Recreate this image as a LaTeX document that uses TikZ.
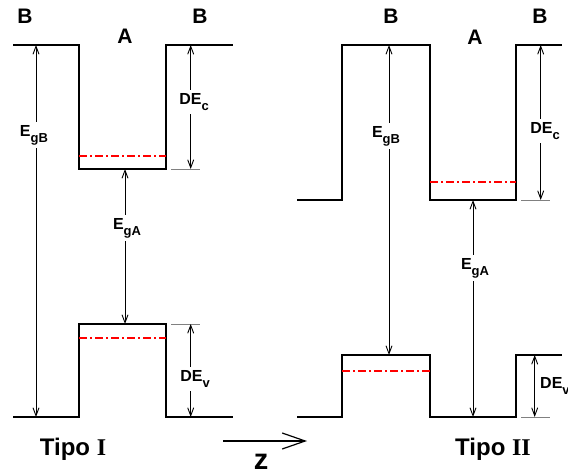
\documentclass[tikz,border=0pt]{standalone}
\usepackage{fontspec}
\setmainfont{Liberation Sans}
\newfontfamily\romanbold{Liberation Serif}
\usetikzlibrary{arrows.meta}

% energy label with lowered subscript
\newcommand{\elbl}[2]{{\fontsize{16}{16}\selectfont\bfseries #1\raisebox{-6pt}{\fontsize{13}{13}\selectfont #2}}}

\begin{document}
\begin{tikzpicture}[x=1pt, y=-1pt,
  bandline/.style={line width=1.8pt, line join=miter},
  redlevel/.style={red, line width=1.3pt, dash pattern=on 8pt off 3pt on 2pt off 3pt},
  dimarrow/.style={{Straight Barb[length=8pt,width=6pt]}-{Straight Barb[length=8pt,width=6pt]}, line width=0.9pt},
  zarrow/.style={-{Straight Barb[length=23pt,width=16pt]}, line width=1.2pt},
  tickline/.style={gray, line width=0.8pt},
  lbl/.style={fill=white, inner sep=3pt},
  region/.style={font=\fontsize{21}{21}\selectfont\bfseries},
  kind/.style={font=\fontsize{24}{24}\selectfont\bfseries}
]
  \useasboundingbox (0,0) rectangle (568,476);

  % Tipo I: conduction and valence bands
  \draw[bandline] (13,45) -- (79,45) -- (79,169) -- (166,169) -- (166,45) -- (233,45);
  \draw[bandline] (13,417) -- (79,417) -- (79,324) -- (166,324) -- (166,417) -- (233,417);
  \draw[redlevel] (79,156) -- (166,156);
  \draw[redlevel] (79,338) -- (166,338);

  % Tipo II: conduction and valence bands
  \draw[bandline] (297,200) -- (342,200) -- (342,45) -- (430,45) -- (430,200) -- (516,200) -- (516,45) -- (562,45);
  \draw[bandline] (297,417) -- (342,417) -- (342,355) -- (430,355) -- (430,417) -- (516,417) -- (516,355) -- (562,355);
  \draw[redlevel] (430,182) -- (516,182);
  \draw[redlevel] (342,371) -- (430,371);

  % Arrow end points
  \coordinate (gB1top) at (36,45);
  \coordinate (gB1bot) at (36,417);
  \coordinate (gA1top) at (125,169);
  \coordinate (gA1bot) at (125,324);
  \coordinate (Ec1top) at (190.7,45);
  \coordinate (Ec1bot) at (190.7,169);
  \coordinate (Ev1top) at (190.7,324);
  \coordinate (Ev1bot) at (190.7,417);
  \coordinate (gB2top) at (389,45);
  \coordinate (gB2bot) at (389,355);
  \coordinate (gA2top) at (473,200);
  \coordinate (gA2bot) at (473,417);
  \coordinate (Ec2top) at (540.7,45);
  \coordinate (Ec2bot) at (540.7,200);
  \coordinate (Ev2top) at (534.7,355);
  \coordinate (Ev2bot) at (534.7,417);

  % Ticks for the offsets
  \draw[tickline] (171,169) -- (200,169);
  \draw[tickline] (171,324) -- (200,324);
  \draw[tickline] (521,200) -- (550,200);
  \draw[tickline] (521,417) -- (550,417);

  % Gap and offset arrows
  \draw[dimarrow] (gB1top) -- (gB1bot);
  \draw[dimarrow] (gA1top) -- (gA1bot);
  \draw[dimarrow] (Ec1top) -- (Ec1bot);
  \draw[dimarrow] (Ev1top) -- (Ev1bot);
  \draw[dimarrow] (gB2top) -- (gB2bot);
  \draw[dimarrow] (gA2top) -- (gA2bot);
  \draw[dimarrow] (Ec2top) -- (Ec2bot);
  \draw[dimarrow] (Ev2top) -- (Ev2bot);

  % Arrow labels
  \node[lbl] (EgB1) at (34,135) {\elbl{E}{gB}};
  \node[lbl] (EgA1) at (127,228) {\elbl{E}{gA}};
  \node[lbl] (DEc1) at (194,102) {\elbl{DE}{c}};
  \node[lbl] (DEv1) at (195,379) {\elbl{DE}{v}};
  \node[lbl] (EgB2) at (386,136) {\elbl{E}{gB}};
  \node[lbl] (EgA2) at (475,268) {\elbl{E}{gA}};
  \node[lbl] (DEc2) at (545,131) {\elbl{DE}{c}};
  \node[inner sep=0pt, anchor=west] (DEv2) at (540,386) {\elbl{DE}{v}};

  % Materials
  \node[region] (B1) at (25,16) {B};
  \node[region] (A1) at (125,36) {A};
  \node[region] (B2) at (200,16) {B};
  \node[region] (B3) at (391,16) {B};
  \node[region] (A2) at (475,37) {A};
  \node[region] (B4) at (540,16) {B};

  % Growth direction
  \coordinate (zstart) at (223,441);
  \coordinate (zend) at (307,441);
  \draw[zarrow] (zstart) -- (zend);
  \node[font=\fontsize{29}{29}\selectfont\bfseries] (z) at (261,462) {z};

  % Types
  \node[kind] (tipo1) at (73,449) {Tipo {\romanbold I}};
  \node[kind] (tipo2) at (493,449) {Tipo {\romanbold II}};

\end{tikzpicture}
\end{document}
